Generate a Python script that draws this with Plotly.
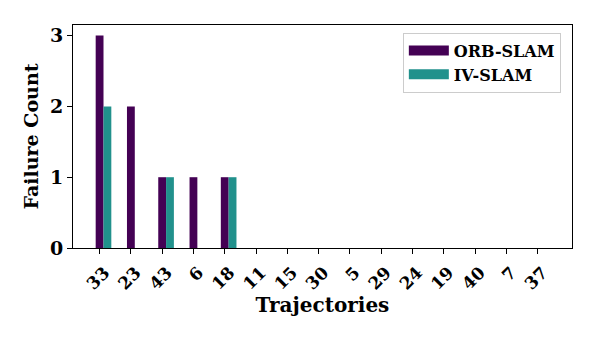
import plotly.graph_objects as go

trajectories = ["33", "23", "43", "6", "18", "11", "15", "30", "5", "29", "24", "19", "40", "7", "37"]
orb_slam = [3, 2, 1, 1, 1, 0, 0, 0, 0, 0, 0, 0, 0, 0, 0]
iv_slam = [2, 0, 1, 0, 1, 0, 0, 0, 0, 0, 0, 0, 0, 0, 0]
series_names = ["ORB-SLAM", "IV-SLAM"]
series_colors = ["#440154", "#21918c"]

FONT = "DejaVu Serif"
W = 0.25
pos = list(range(len(trajectories)))

fig = go.Figure()
for k, (vals, name, col) in enumerate(zip([orb_slam, iv_slam], series_names, series_colors)):
    fig.add_trace(go.Bar(x=[p + k * W for p in pos], y=vals, width=W, name=name,
                         legendgroup=name, showlegend=False,
                         marker=dict(color=col, line=dict(width=0))))
    # legend-only entry drawn as a wide patch, like matplotlib's legend handles
    fig.add_trace(go.Scatter(x=[None], y=[None], mode="lines", name="<b>%s</b>" % name,
                             legendgroup=name, line=dict(color=col, width=12)))

fig.update_layout(
    width=598, height=342,
    margin=dict(l=73, r=26, t=25, b=94, autoexpand=False),
    paper_bgcolor="white", plot_bgcolor="white",
    barmode="overlay",
    font=dict(family=FONT, color="black", size=18),
    showlegend=True,
    legend=dict(x=0.661, y=0.966, xanchor="left", yanchor="top",
                bgcolor="rgba(255,255,255,0.8)", bordercolor="#cccccc", borderwidth=1,
                font=dict(family=FONT, size=16, color="black"),
                itemwidth=40, tracegroupgap=0),
    xaxis=dict(range=[-0.85, 15.1], tickmode="array", tickvals=pos,
               ticktext=["<b>%s</b>" % t for t in trajectories], tickangle=-45,
               ticks="outside", ticklen=5, tickwidth=1, tickcolor="black",
               ticklabelshift=5, ticklabelstandoff=2,
               showline=True, linecolor="black", linewidth=1, mirror=True,
               showgrid=False, zeroline=False, automargin=False,
               tickfont=dict(family=FONT, size=17),
               title=dict(text="<b>Trajectories</b>", font=dict(family=FONT, size=20), standoff=2)),
    yaxis=dict(range=[0, 3.15], tickmode="array", tickvals=[0, 1, 2, 3],
               ticktext=["<b>0</b>", "<b>1</b>", "<b>2</b>", "<b>3</b>"],
               ticks="outside", ticklen=5, tickwidth=1, tickcolor="black",
               showline=True, linecolor="black", linewidth=1, mirror=True,
               showgrid=False, zeroline=False, automargin=False,
               tickfont=dict(family=FONT, size=19),
               title=dict(text="<b>Failure Count</b>", font=dict(family=FONT, size=19), standoff=6)),
)

fig.write_html("out.html", config={"displayModeBar": False},
               post_script="document.body.style.margin='0';document.body.style.padding='0';")
